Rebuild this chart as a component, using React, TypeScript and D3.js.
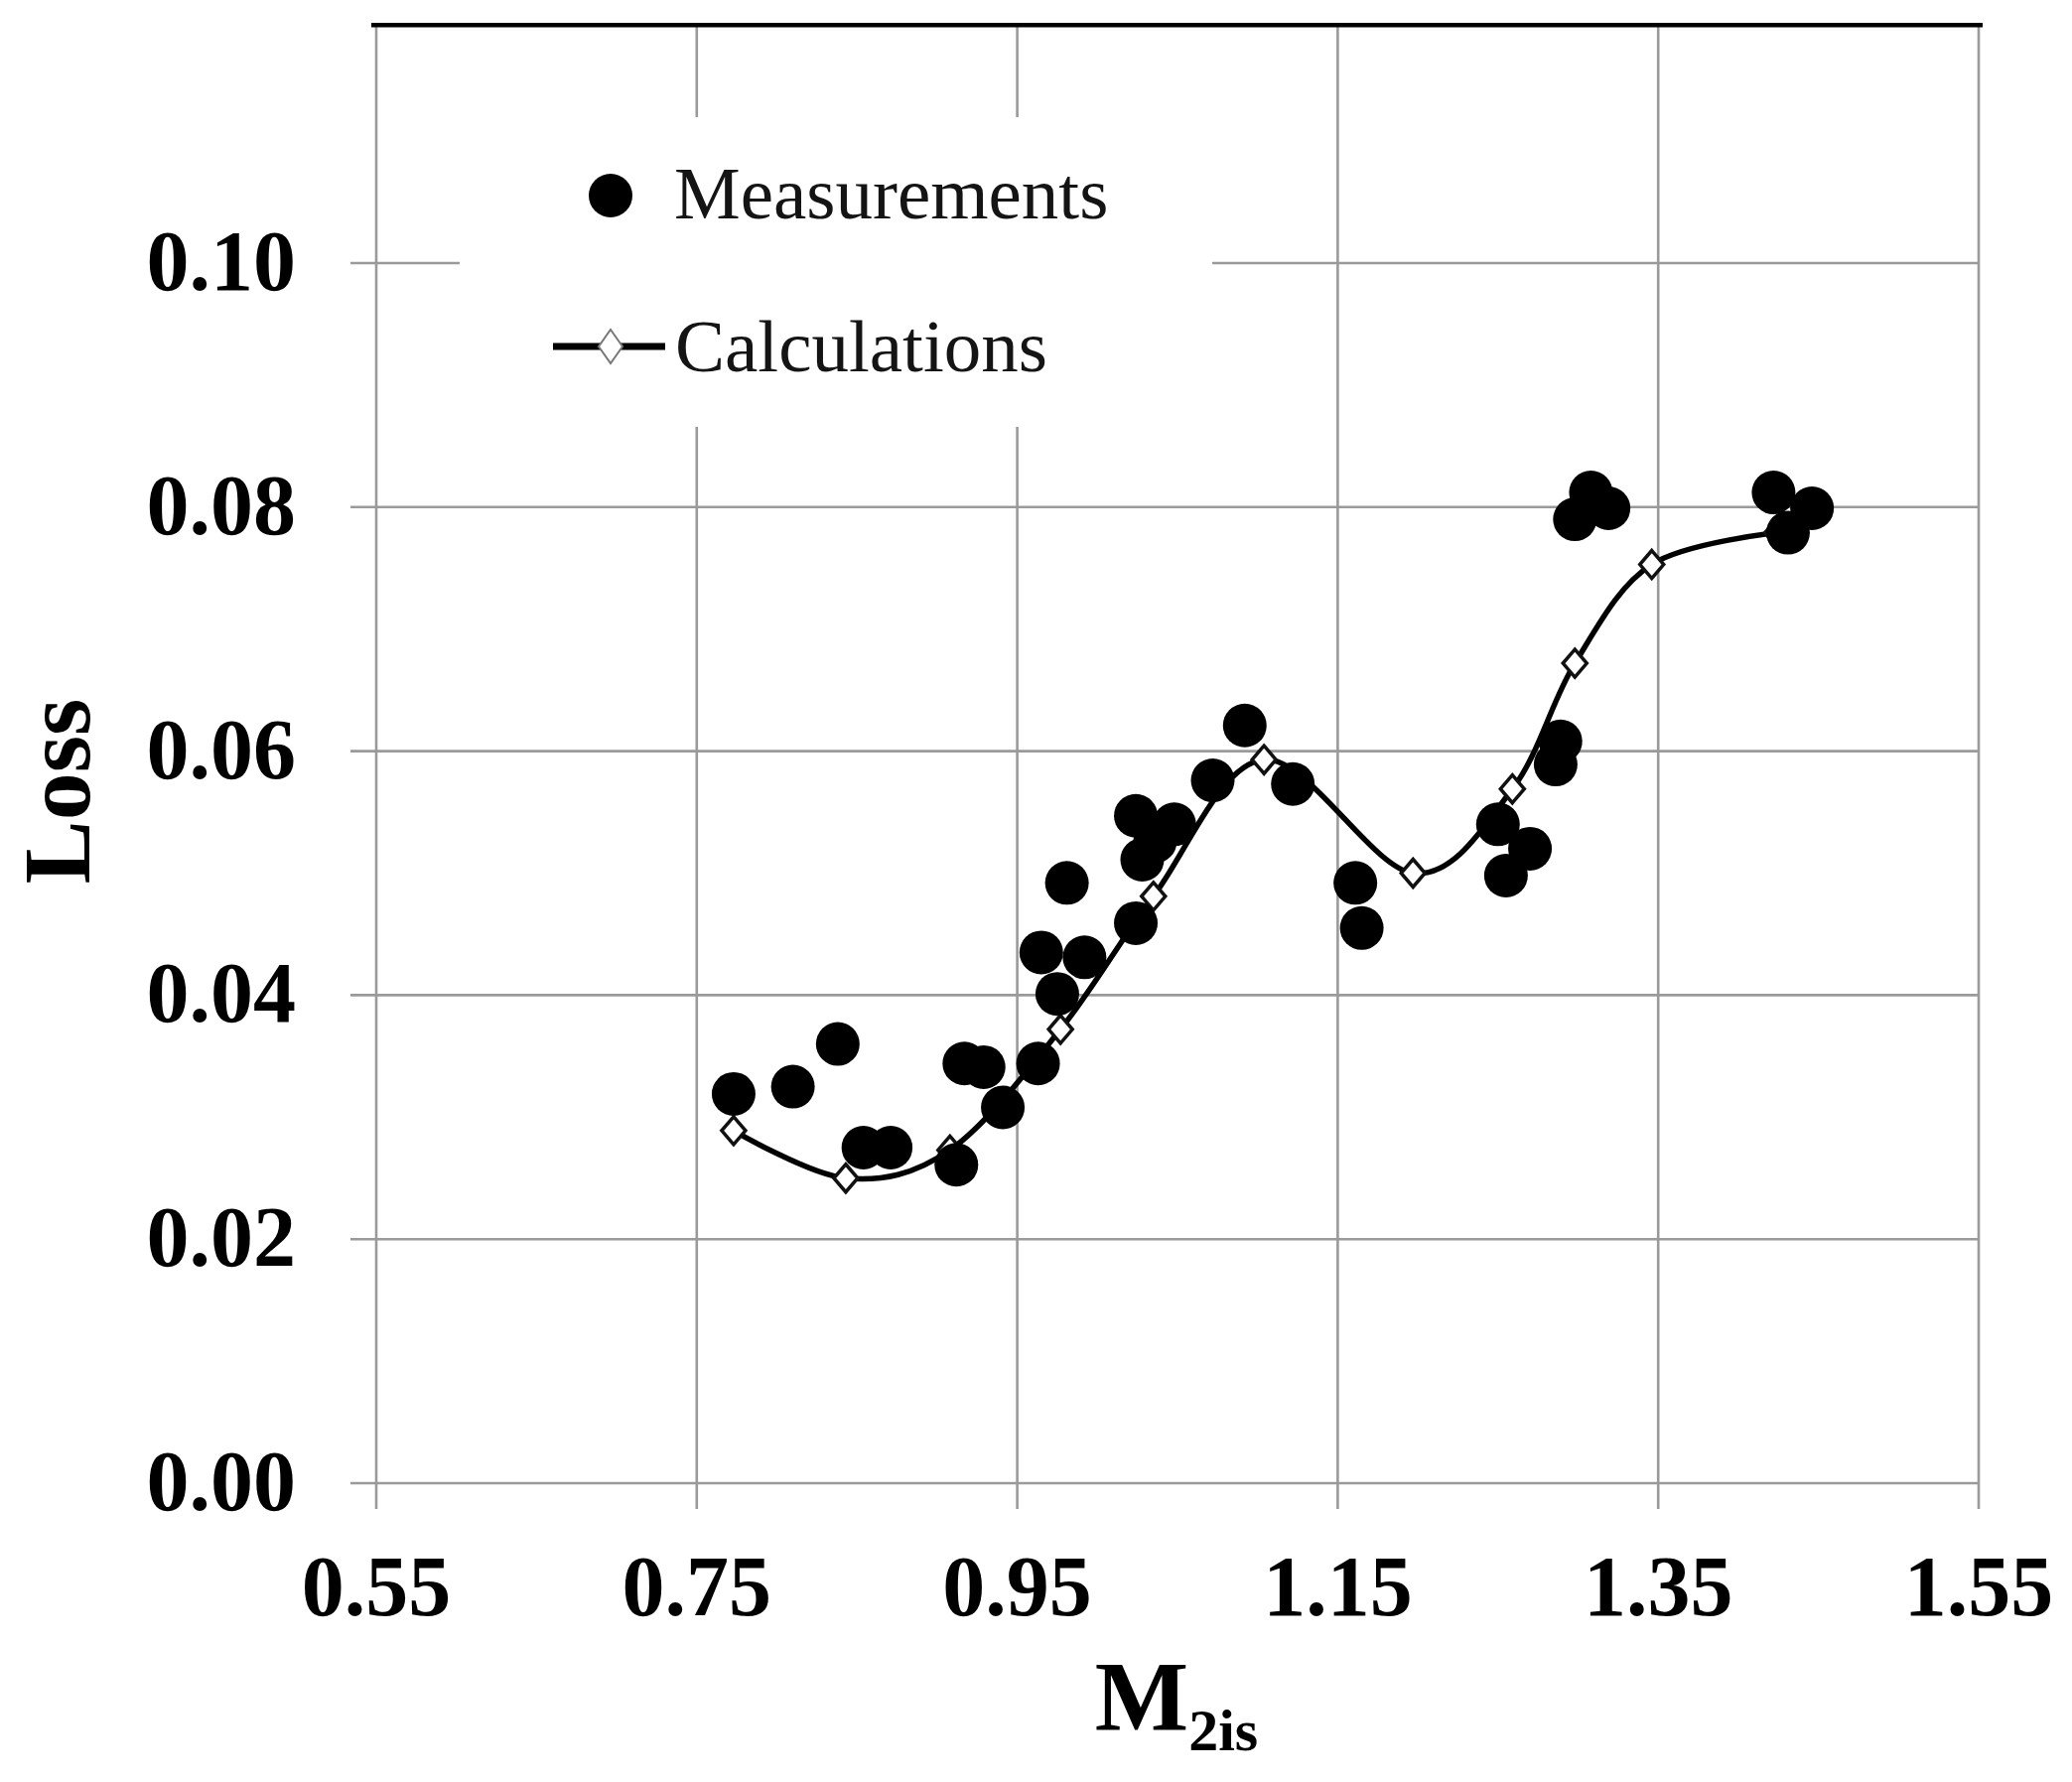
import { useEffect } from "react"
import * as d3 from "d3"

// Loss vs isentropic exit Mach number: measurements (dots) and calculations (smoothed line)
const xTicks = [0.55, 0.75, 0.95, 1.15, 1.35, 1.55]
const yTicks = [0.0, 0.02, 0.04, 0.06, 0.08, 0.1]

const measX = [0.773, 0.810, 0.838, 0.854, 0.871, 0.912, 0.917, 0.929, 0.941, 0.963, 0.965, 0.975, 0.981, 0.992, 1.024, 1.024, 1.028, 1.036, 1.048, 1.072, 1.092, 1.122, 1.161, 1.165, 1.250, 1.255, 1.270, 1.286, 1.289, 1.298, 1.308, 1.319, 1.422, 1.431, 1.446]
const measY = [0.0319, 0.0325, 0.0360, 0.0275, 0.0275, 0.0261, 0.0344, 0.0341, 0.0308, 0.0344, 0.0435, 0.0401, 0.0492, 0.0431, 0.0459, 0.0547, 0.0511, 0.0526, 0.0540, 0.0576, 0.0621, 0.0573, 0.0492, 0.0455, 0.0540, 0.0498, 0.0520, 0.0589, 0.0608, 0.0790, 0.0812, 0.0799, 0.0812, 0.0779, 0.0799]

const calcX = [0.773, 0.843, 0.908, 0.977, 1.035, 1.104, 1.197, 1.259, 1.298, 1.346, 1.424]
const calcY = [0.0289, 0.0250, 0.0273, 0.0372, 0.0481, 0.0593, 0.0500, 0.0569, 0.0672, 0.0753, 0.0779]

const W = 2087
const H = 1795
const FONT = "'Liberation Serif', 'Times New Roman', serif"
const GRID = "#9a9a9a"

export default function App() {
  useEffect(() => {
    document.body.style.margin = "0"
  }, [])

  const x = d3.scaleLinear().domain([0.55, 1.55]).range([379, 1993])
  const y = d3.scaleLinear().domain([0, 0.1]).range([1494, 265])
  const yTop = y(0.1195)

  const calc = calcX.map((v, i) => [v, calcY[i]] as [number, number])
  const line = d3.line<[number, number]>()
    .x(d => x(d[0]))
    .y(d => y(d[1]))
    .curve(d3.curveCardinal.tension(0))

  const diamond = (cx: number, cy: number, hw: number, hh: number) =>
    `M${cx},${cy - hh}L${cx + hw},${cy}L${cx},${cy + hh}L${cx - hw},${cy}Z`

  const fmt = d3.format(".2f")

  return (
    <svg width={W} height={H} style={{ display: "block", background: "#fff" }} fontFamily={FONT}>
      {/* grid */}
      {yTicks.map(t => (
        <line key={"gy" + t} x1={x(0.55) - 26} x2={x(1.55)} y1={y(t)} y2={y(t)} stroke={GRID} strokeWidth={2.6} />
      ))}
      {xTicks.map(t => (
        <line key={"gx" + t} x1={x(t)} x2={x(t)} y1={yTop} y2={y(0) + 26} stroke={GRID} strokeWidth={2.6} />
      ))}
      <line x1={x(0.55) - 5} x2={x(1.55) + 4} y1={yTop} y2={yTop} stroke="#000" strokeWidth={4.5} />

      {/* legend box hides the grid behind it */}
      <rect x={463} y={118} width={758} height={312} fill="#fff" />
      <circle cx={615} cy={197} r={22} fill="#000" />
      <text x={679} y={220} fontSize={75} fill="#141414">Measurements</text>
      <line x1={557} x2={670} y1={349} y2={349} stroke="#000" strokeWidth={7} />
      <path d={diamond(615, 349, 12, 17)} fill="#fff" stroke="#777" strokeWidth={2} />
      <text x={680} y={374} fontSize={75} fill="#141414">Calculations</text>

      {/* calculations */}
      <path d={line(calc) ?? ""} fill="none" stroke="#000" strokeWidth={5.5} />
      {calc.map((d, i) => (
        <path key={"c" + i} d={diamond(x(d[0]), y(d[1]), 12, 14)} fill="#fff" stroke="#111" strokeWidth={3.5} />
      ))}

      {/* measurements */}
      {measX.map((v, i) => (
        <circle key={"m" + i} cx={x(v)} cy={y(measY[i])} r={22} fill="#000" />
      ))}

      {/* y tick labels */}
      {yTicks.map(t => (
        <text key={"ly" + t} x={298} y={y(t)} dy={27} textAnchor="end" fontSize={86} fontWeight="bold">
          {fmt(t)}
        </text>
      ))}
      {/* x tick labels */}
      {xTicks.map(t => (
        <text key={"lx" + t} x={x(t)} y={1627} textAnchor="middle" fontSize={86} fontWeight="bold">
          {fmt(t)}
        </text>
      ))}

      {/* axis titles */}
      <text transform="translate(90,797) rotate(-90)" textAnchor="middle" fontSize={96} fontWeight="bold">Loss</text>
      <text x={1185} y={1742} textAnchor="middle" fontWeight="bold">
        <tspan fontSize={100}>M</tspan>
        <tspan fontSize={60} dy={21}>2is</tspan>
      </text>
    </svg>
  )
}
